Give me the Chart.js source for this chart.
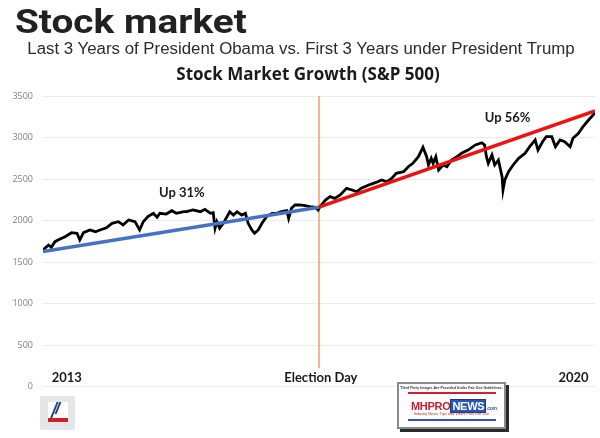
<!DOCTYPE html>
<html>
<head>
<meta charset="utf-8">
<script src="https://cdn.jsdelivr.net/npm/chart.js@4.4.1/dist/chart.umd.min.js"></script>
<style>
  html, body { margin: 0; padding: 0; background: #fff; }
  #wrap { position: relative; width: 600px; height: 438px; overflow: hidden; }
  #chart { position: absolute; left: 0; top: 0; }
  .txt { position: absolute; white-space: nowrap; line-height: 1; }
  #head { left: 15px; top: 1px; font: 700 34px Roboto, sans-serif; color: #212121; transform: scaleX(1.14); transform-origin: left center; }
  #sub { left: 0; width: 602px; text-align: center; top: 40px; font: 16px "Liberation Sans", Arial, sans-serif; color: #2b2b2b; transform: scaleX(1.052); transform-origin: 301px center; }
  #ctitle { left: 0; width: 616px; text-align: center; top: 62px; font: 700 17px "Open Sans", sans-serif; color: #1a1a1a; }

  /* small logo bottom left */
  #logo1 { position: absolute; left: 40px; top: 396px; width: 35px; height: 34px; background: #e4e7ea; border-radius: 2px; }
  #logo1 .sq { position: absolute; left: 8px; top: 6px; width: 20px; height: 20px; background: #fff; overflow: hidden; }
  #logo1 .red { position: absolute; left: 0; bottom: 0; width: 20px; height: 4px; background: #d0202a; }
  #logo1 .s1, #logo1 .s2 { position: absolute; width: 2px; height: 18px; background: #1c3f82; transform: skewX(-22deg); top: 0; }
  #logo1 .s1 { left: 5px; }
  #logo1 .s2 { left: 9px; height: 12px; }

  /* mhpronews badge */
  #badge { position: absolute; left: 397px; top: 382px; width: 105px; height: 43px; background: #fff;
           border: 2px solid #8a8a8a; box-shadow: 3px 3px 0 #2a2a2a; }
  #badge .fine { position: absolute; left: 0; width: 105px; top: 2px; text-align: center; font: 700 3.6px "Liberation Sans", sans-serif; color: #333; }
  #badge .lr { position: absolute; left: 9px; width: 88px; top: 8px; height: 2px; background: #d11f2b; }
  #badge .lb { position: absolute; left: 9px; width: 88px; top: 35px; height: 2px; background: #2a56b5; }
  #badge .mh { position: absolute; left: 12px; top: 15px; font: 700 11px "Liberation Sans", sans-serif; color: #c81e2a; letter-spacing: -0.3px; }
  #badge .news { display: inline-block; background: #2757b0; color: #fff; padding: 0 1px; border: 1px solid #1b3c7c; }
  #badge .com { font-size: 5px; color: #2757b0; }
  #badge .tag { position: absolute; left: 0; width: 105px; top: 28px; text-align: center; font: 3.8px "Liberation Sans", sans-serif; color: #c81e2a; }
</style>
</head>
<body>
<div id="wrap">
  <canvas id="chart" width="600" height="438"></canvas>
  <div class="txt" id="head">Stock market</div>
  <div class="txt" id="sub">Last 3 Years of President Obama vs. First 3 Years under President Trump</div>
  <div class="txt" id="ctitle">Stock Market Growth (S&amp;P 500)</div>
  <div id="logo1"><div class="sq"><div class="s1"></div><div class="s2"></div><div class="red"></div></div></div>
  <div id="badge">
    <div class="fine">Third Party Images Are Provided Under Fair Use Guidelines.</div>
    <div class="lr"></div>
    <div class="mh">MHPRO<span class="news">NEWS</span><span class="com">.com</span></div>
    <div class="tag">Industry News, Tips and Views Pros can Use</div>
    <div class="lb"></div>
  </div>
</div>
<script>
// years since the start of the window (0 = 2013, 3 = Election Day, 6 = 2020)
const years = [
  0.00, 0.06, 0.09, 0.13, 0.18, 0.24, 0.31, 0.37, 0.40, 0.44,
  0.51, 0.57, 0.62, 0.69, 0.75, 0.82, 0.87, 0.93, 1.00, 1.05,
  1.09, 1.14, 1.20, 1.24, 1.27, 1.34, 1.40, 1.45, 1.53, 1.56,
  1.63, 1.71, 1.76, 1.82, 1.85, 1.87, 1.89, 1.92, 1.96, 2.00,
  2.03, 2.07, 2.11, 2.16, 2.20, 2.23, 2.27, 2.30, 2.34, 2.38,
  2.43, 2.49, 2.54, 2.59, 2.65, 2.67, 2.70, 2.74, 2.79, 2.85,
  2.90, 2.96, 2.99, 3.01, 3.07, 3.12, 3.17, 3.23, 3.30, 3.36,
  3.41, 3.46, 3.54, 3.59, 3.64, 3.68, 3.74, 3.79, 3.84, 3.92,
  3.97, 4.02, 4.08, 4.13, 4.17, 4.19, 4.22, 4.24, 4.27, 4.30,
  4.35, 4.39, 4.44, 4.50, 4.55, 4.62, 4.70, 4.77, 4.80, 4.82,
  4.84, 4.88, 4.91, 4.95, 4.99, 5.00, 5.02, 5.06, 5.11, 5.17,
  5.24, 5.29, 5.35, 5.38, 5.43, 5.47, 5.53, 5.57, 5.62, 5.67,
  5.73, 5.76, 5.82, 5.87, 5.93, 5.98, 6.00
];
const sp500 = [
  1645, 1705, 1677, 1745, 1773, 1805, 1853, 1846, 1765, 1853,
  1886, 1865, 1886, 1913, 1966, 1986, 1946, 2006, 1986, 1886,
  1986, 2046, 2087, 2039, 2087, 2078, 2118, 2087, 2106, 2106,
  2127, 2106, 2135, 2087, 2094, 1906, 1986, 1906, 1966, 2046,
  2106, 2066, 2106, 2066, 2087, 1966, 1886, 1846, 1886, 1966,
  2046, 2087, 2087, 2106, 2118, 2026, 2147, 2187, 2187, 2178,
  2166, 2159, 2127, 2166, 2247, 2287, 2267, 2307, 2388, 2367,
  2347, 2388, 2428, 2448, 2467, 2488, 2467, 2508, 2569, 2588,
  2648, 2689, 2769, 2882, 2769, 2669, 2749, 2689, 2769, 2608,
  2669, 2648, 2729, 2769, 2810, 2849, 2910, 2937, 2910, 2769,
  2689, 2789, 2669, 2729, 2528, 2367, 2488, 2588, 2669, 2749,
  2810, 2889, 2970, 2849, 2949, 3010, 3010, 2889, 2970, 2949,
  2889, 2990, 3051, 3130, 3211, 3271, 3310
];

// trend lines: Obama years and Trump years
const obamaYears = [0, 3];
const obamaTrend = [1625, 2160];
const trumpYears = [3, 6];
const trumpTrend = [2160, 3320];

// election day marker
const electionYear = 3;
const electionSpan = [3500, 220];

const yTicks = [0, 500, 1000, 1500, 2000, 2500, 3000, 3500];

function toPoints(xs, ys) {
  return xs.map((x, i) => ({ x: x, y: ys[i] }));
}

const notes = [
  { x: 1.51, y: 2330, text: "Up 31%", align: "center" },
  { x: 5.05, y: 3235, text: "Up 56%", align: "center" },
  { x: 0.095, y: 100, text: "2013", align: "left" },
  { x: 3.02, y: 100, text: "Election Day", align: "center" },
  { x: 5.93, y: 100, text: "2020", align: "right" },
];

const notesPlugin = {
  id: "notes",
  afterDatasetsDraw(chart) {
    const { ctx, scales } = chart;
    ctx.save();
    ctx.fillStyle = "#1a1a1a";
    ctx.font = "bold 13px Lato";
    ctx.textBaseline = "middle";
    notes.forEach((n) => {
      ctx.textAlign = n.align;
      ctx.fillText(n.text, scales.x.getPixelForValue(n.x), scales.y.getPixelForValue(n.y));
    });
    ctx.restore();
  },
};

const ctx = document.getElementById("chart").getContext("2d");

new Chart(ctx, {
  type: "line",
  data: {
    datasets: [
      {
        label: "Election Day",
        data: toPoints([electionYear, electionYear], electionSpan),
        borderColor: "#e2a26c",
        borderWidth: 1.5,
        pointRadius: 0,
        order: 4,
      },
      {
        label: "S&P 500",
        data: toPoints(years, sp500),
        borderColor: "#000000",
        borderWidth: 2.8,
        pointRadius: 0,
        tension: 0,
        order: 3,
      },
      {
        label: "Obama trend",
        data: toPoints(obamaYears, obamaTrend),
        borderColor: "#4472c4",
        borderWidth: 3.5,
        pointRadius: 0,
        order: 2,
      },
      {
        label: "Trump trend",
        data: toPoints(trumpYears, trumpTrend),
        borderColor: "#f01010",
        borderWidth: 3.5,
        pointRadius: 0,
        order: 1,
      },
    ],
  },
  options: {
    responsive: false,
    animation: false,
    devicePixelRatio: 1,
    layout: {
      padding: { top: 96, bottom: 51.5, left: 0, right: 5 },
    },
    scales: {
      x: {
        type: "linear",
        min: 0,
        max: 6,
        display: false,
      },
      y: {
        min: 0,
        max: 3500,
        afterBuildTicks: (scale) => {
          scale.ticks = yTicks.map((v) => ({ value: v }));
        },
        afterFit: (scale) => {
          scale.width = 43;
        },
        border: { display: false },
        grid: { color: "#ebebeb", lineWidth: 1, drawTicks: false },
        ticks: {
          padding: 10,
          color: "#808080",
          font: { family: "Open Sans", size: 9 },
          callback: (value) => String(value),
        },
      },
    },
    plugins: {
      legend: { display: false },
      tooltip: { enabled: false },
      title: { display: false },
    },
  },
  plugins: [notesPlugin],
});
</script>
</body>
</html>
